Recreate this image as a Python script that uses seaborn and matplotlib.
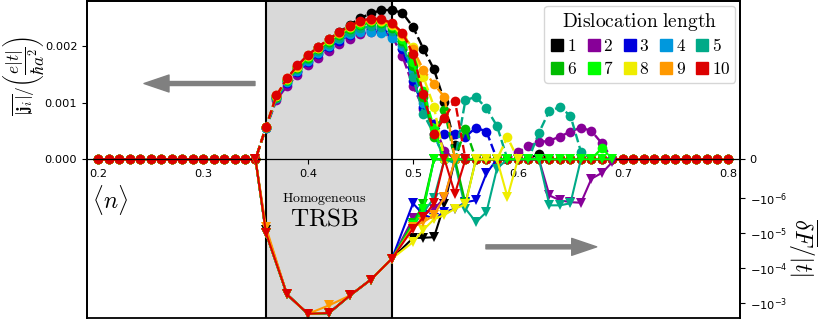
import numpy as np
import matplotlib
matplotlib.use("Agg")
import matplotlib.pyplot as plt
from matplotlib.lines import Line2D
from matplotlib.ticker import NullLocator
import seaborn as sns

plt.rcParams['mathtext.fontset'] = 'cm'

# ---------------- data ----------------
lengths = [1, 2, 3, 4, 5, 6, 7, 8, 9, 10]

# filling grid for the current (step 0.01)
x_cur = [round(0.20 + 0.01 * i, 2) for i in range(61)]
cur_zero_low = [0.0] * 16          # <n> = 0.20 ... 0.35 : current vanishes
# current |j_i| in units of 1e-3 e|t|/(hbar a^2), for <n> = 0.36 ... 0.80
cur_1 = [0.57, 1.12, 1.41, 1.64, 1.83, 1.98, 2.12, 2.25, 2.38, 2.50, 2.58, 2.64, 2.64,
         2.59, 2.34, 1.95, 1.59, 1.02, 0.25, 0, 0, 0, 0, 0, 0, 0, 0.10] + [0] * 18
cur_2 = [0.55, 1.05, 1.30, 1.49, 1.66, 1.80, 1.92, 2.04, 2.13, 2.21, 2.25, 2.25, 2.18,
         1.82, 1.30, 0.89, 0.62, 0.15, 0, 0, 0, 0, 0, 0.0, 0.12, 0.24, 0.30, 0.33, 0.40,
         0.49, 0.56, 0.50, 0.28] + [0] * 12
cur_3 = [0.56, 1.08, 1.35, 1.55, 1.72, 1.86, 1.99, 2.10, 2.20, 2.27, 2.30, 2.29, 2.22,
         1.95, 1.39, 0.92, 0.62, 0.45, 0.45, 0.40, 0.56, 0.49] + [0] * 23
cur_4 = [0.56, 1.08, 1.36, 1.56, 1.74, 1.88, 2.01, 2.12, 2.21, 2.26, 2.26, 2.24, 2.15,
         2.00, 1.56, 1.00, 0.45] + [0] * 28
cur_5 = [0.56, 1.09, 1.38, 1.59, 1.77, 1.91, 2.04, 2.15, 2.25, 2.32, 2.35, 2.34, 2.27,
         2.05, 1.45, 0.80, 0.45, 0, 0, 1.05, 1.10, 0.90, 0.59, 0, 0, 0, 0.47, 0.86, 0.92,
         0.77, 0.13] + [0] * 14
cur_6 = [0.57, 1.11, 1.40, 1.62, 1.80, 1.95, 2.08, 2.20, 2.30, 2.38, 2.42, 2.41, 2.33,
         2.10, 1.65, 1.10, 0.40, 0.87, 0, 0.54] + [0] * 25
cur_7 = [0.57, 1.12, 1.41, 1.63, 1.81, 1.96, 2.10, 2.22, 2.32, 2.40, 2.44, 2.43, 2.35,
         2.12, 1.72, 1.20, 0.55] + [0] * 15 + [0.20] + [0] * 12
cur_8 = [0.57, 1.12, 1.42, 1.64, 1.83, 1.97, 2.11, 2.23, 2.34, 2.42, 2.46, 2.45, 2.38,
         2.18, 1.98, 1.45, 0.93, 0, 0, 0, 0, 0, 0, 0.39] + [0] * 21
cur_9 = [0.57, 1.13, 1.43, 1.65, 1.84, 1.98, 2.12, 2.24, 2.35, 2.43, 2.47, 2.46, 2.40,
         2.22, 1.95, 1.58, 1.33, 1.10] + [0] * 27
cur_10 = [0.57, 1.13, 1.43, 1.66, 1.85, 1.99, 2.13, 2.25, 2.36, 2.45, 2.49, 2.48, 2.41,
          2.24, 1.86, 1.15, 0.45, 0.73, 1.03] + [0] * 26
currents = [cur_1, cur_2, cur_3, cur_4, cur_5, cur_6, cur_7, cur_8, cur_9, cur_10]

# free energy difference (units of 1e-6 |t|)
x_fe_head = [0.35, 0.36, 0.38, 0.40, 0.42, 0.44, 0.46, 0.48]
x_fe_tail = [round(0.50 + 0.01 * i, 2) for i in range(20)]
fe_head_common = [0, -10, -560, -2000, -1900, -600, -210, -53]
fe_head_1 = [0, -8, -560, -2000, -1900, -600, -210, -53]
fe_head_9 = [0, -6.8, -560, -2000, -1150, -600, -210, -53]
fe_tail_1 = [-13.7, -13.5, -13, -1.5, 0, 0, 0, 0, 0, 0, 0, 0, 0, 0]
fe_tail_2 = [-3.8, -3.0, -2.0, -1.0, 0, 0, 0, 0, 0, 0, 0, 0, 0,
             -0.93, -1.15, -1.3, -1.35, -0.5, -0.35, -0.07]
fe_tail_3 = [-1.4, -3.0, -3.8, -2.5, -2.0, -1.3, -1.15, -0.36, 0, 0, 0]
fe_tail_4 = [-5, -2, 0, 0]
fe_tail_5 = [-6, -2.5, -1.0, 0, -0.1, -2.0, -4.8, -2.5, -0.24, 0, 0, 0, 0,
             -1.6, -1.6, -1.4, 0]
fe_tail_6 = [-5, -1.5, 0, 0, 0, -1.4, 0, 0, 0, 0, 0]
fe_tail_7 = [-6, -2] + [0] * 18
fe_tail_8 = [-18, -8, -4, -3, -2, -1.5, 0, 0, 0, -0.97, 0]
fe_tail_9 = [-6.6, -4.8, -3.1, -0.97, 0]
fe_tail_10 = [-7.4, -3.5, -1.4, 0, -0.88, 0]
fe_heads = [fe_head_1, fe_head_common, fe_head_common, fe_head_common, fe_head_common,
            fe_head_common, fe_head_common, fe_head_common, fe_head_9, fe_head_common]
fe_tails = [fe_tail_1, fe_tail_2, fe_tail_3, fe_tail_4, fe_tail_5,
            fe_tail_6, fe_tail_7, fe_tail_8, fe_tail_9, fe_tail_10]

x_ticks = [0.2, 0.3, 0.4, 0.5, 0.6, 0.7, 0.8]
left_ticks = [0.0, 0.001, 0.002]
right_ticks = [0, -1e-6, -1e-5, -1e-4, -1e-3]
right_ticklabels = ['0', r'$\mathdefault{-10^{-6}}$', r'$\mathdefault{-10^{-5}}$',
                    r'$\mathdefault{-10^{-4}}$', r'$\mathdefault{-10^{-3}}$']
trsb_lo, trsb_hi = 0.36, 0.48

cmap = plt.get_cmap('nipy_spectral')
colors = [cmap(i / 10) for i in range(10)]

# ---------------- figure ----------------
fig = plt.figure(figsize=(8.22, 3.19), dpi=100)
ax1 = fig.add_axes([87 / 822, 1.5 / 319, 653 / 822, 316.5 / 319])
ax2 = ax1.twinx()
ax2.set_yscale('symlog', linthresh=1e-6, linscale=1)

ax1.axvspan(trsb_lo, trsb_hi, color='#d9d9d9', zorder=0, lw=0)
ax1.axvline(trsb_lo, color='black', lw=1.5, zorder=1)
ax1.axvline(trsb_hi, color='black', lw=1.5, zorder=1)

for L, c, cur in zip(lengths, colors, currents):
    yvals = np.array(cur_zero_low + cur) * 1e-3
    sns.lineplot(x=x_cur, y=yvals, ax=ax1, color=c, linestyle='--', lw=1.7,
                 marker='o', markersize=7, markeredgewidth=0, zorder=2)

for L, c, head, tail in zip(lengths, colors, fe_heads, fe_tails):
    xs = x_fe_head + x_fe_tail[:len(tail)]
    ys = np.array(head + tail) * 1e-6
    sns.lineplot(x=xs, y=ys, ax=ax2, color=c, linestyle='-', lw=1.5,
                 marker='v', markersize=7, markeredgewidth=0)

# axes limits and ticks
ax1.set_xlim(0.1895, 0.8115)
ax1.set_ylim(-0.0028, 0.0028)
ax2.set_ylim(-2.55e-3, 2.55e-3)
ax1.set_xticks(x_ticks)
ax1.set_xticklabels([f'{v:.1f}' for v in x_ticks])
ax1.set_yticks(left_ticks)
ax1.set_yticklabels([f'{v:.3f}' for v in left_ticks])
ax2.set_yticks(right_ticks)
ax2.set_yticklabels(right_ticklabels)
ax2.yaxis.set_minor_locator(NullLocator())
ax1.tick_params(labelsize=8.2)
ax2.tick_params(labelsize=8.2)

ax1.spines['bottom'].set_position(('data', 0))
ax1.spines['bottom'].set_linewidth(0.9)
for name in ['left', 'right', 'top']:
    ax1.spines[name].set_linewidth(1.3)
for name in ['left', 'right', 'top', 'bottom']:
    ax2.spines[name].set_linewidth(1.3)

ax1.set_xlabel('')
ax1.set_ylabel(r'$\overline{|\mathbf{j}_i|}/\left(\dfrac{e|t|}{\hbar a^2}\right)$',
               fontsize=12.5, ha='center', va='center')
ax1.yaxis.set_label_coords(-0.098, 0.763)
ax2.set_ylabel(r'$\overline{\delta F}/|t|$', fontsize=17, rotation=270,
               ha='center', va='center')
ax2.yaxis.set_label_coords(1.0965, 0.221)

ax1.text(0.035, 0.372, r'$\langle n\rangle$', transform=ax1.transAxes,
         ha='center', va='center', fontsize=17)
ax1.text(0.416, -0.000698, r'$\mathrm{Homogeneous}$', ha='center', va='center', fontsize=10)
ax1.text(0.416, -0.00105, r'$\mathrm{TRSB}$', ha='center', va='center', fontsize=18)

arrow_kw = dict(arrowstyle='simple,head_length=1.8,head_width=1.22,tail_width=0.29',
                color='gray', shrinkA=0, shrinkB=0, mutation_scale=10)
ax1.annotate('', xy=(0.2438, 0.00134), xytext=(0.3495, 0.00134), arrowprops=arrow_kw)
ax1.annotate('', xy=(0.675, -0.00155), xytext=(0.5695, -0.00155), arrowprops=arrow_kw)

# legend: rows 1-5 and 6-10 (matplotlib fills column by column)
order = [0, 5, 1, 6, 2, 7, 3, 8, 4, 9]
handles = [Line2D([], [], marker='s', linestyle='none', color=colors[i], markersize=8)
           for i in order]
labels = [f'${lengths[i]}$' for i in order]
leg = ax2.legend(handles, labels, title=r'$\mathrm{Dislocation\ length}$', ncol=5,
                 loc='upper right', bbox_to_anchor=(0.993, 0.985), fontsize=12.5,
                 title_fontsize=14, handletextpad=0.1, columnspacing=0.5,
                 handlelength=0.9, borderpad=0.3, labelspacing=0.25, borderaxespad=0.0)

fig.savefig('out.png', dpi=100)
